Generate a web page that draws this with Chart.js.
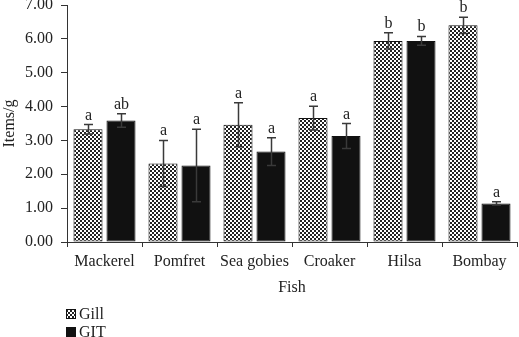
<!DOCTYPE html>
<html>
<head>
<meta charset="utf-8">
<script src="https://cdn.jsdelivr.net/npm/chart.js@4.4.1/dist/chart.umd.min.js"></script>
<style>
html,body{margin:0;padding:0;background:#fff;}
#wrap{width:519px;height:337px;position:relative;}
</style>
</head>
<body>
<div id="wrap"><canvas id="c" width="519" height="337"></canvas></div>
<script>
const categories = ["Mackerel", "Pomfret", "Sea gobies", "Croaker", "Hilsa", "Bombay"];
const gillValues = [3.33, 2.32, 3.46, 3.66, 5.94, 6.40];
const gillErrors = [0.14, 0.68, 0.65, 0.35, 0.24, 0.24];
const gillLetters = ["a", "a", "a", "a", "b", "b"];
const gitValues = [3.59, 2.26, 2.67, 3.13, 5.94, 1.14];
const gitErrors = [0.20, 1.07, 0.41, 0.37, 0.13, 0.05];
const gitLetters = ["ab", "a", "a", "a", "b", "a"];
const yTicks = [0, 1, 2, 3, 4, 5, 6, 7];

const FONT = "'Liberation Serif', 'Times New Roman', serif";

function makePattern() {
  const p = document.createElement('canvas');
  p.width = 4; p.height = 4;
  const g = p.getContext('2d');
  g.fillStyle = '#fff'; g.fillRect(0,0,4,4);
  g.fillStyle = '#222';
  g.fillRect(0,0,2,2); g.fillRect(2,2,2,2);
  return document.getElementById('c').getContext('2d').createPattern(p, 'repeat');
}
const pattern = makePattern();

const errorPlugin = {
  id: 'errs',
  afterDatasetsDraw(chart) {
    const ctx = chart.ctx;
    const y = chart.scales.y;
    const sets = [[gillValues, gillErrors, gillLetters], [gitValues, gitErrors, gitLetters]];
    sets.forEach((s, di) => {
      const meta = chart.getDatasetMeta(di);
      meta.data.forEach((bar, i) => {
        const x = Math.round(bar.x) + 0.5;
        const top = y.getPixelForValue(s[0][i] + s[1][i]);
        const bot = y.getPixelForValue(s[0][i] - s[1][i]);
        ctx.save();
        ctx.strokeStyle = '#3a3a3a';
        ctx.lineWidth = 1.5;
        ctx.beginPath();
        ctx.moveTo(x, top); ctx.lineTo(x, bot);
        ctx.moveTo(x - 4.5, top); ctx.lineTo(x + 4.5, top);
        ctx.moveTo(x - 4.5, bot); ctx.lineTo(x + 4.5, bot);
        ctx.stroke();
        ctx.fillStyle = '#222';
        ctx.font = '16px ' + FONT;
        ctx.textAlign = 'center';
        ctx.textBaseline = 'alphabetic';
        ctx.fillText(s[2][i], x, top - 5);
        ctx.restore();
      });
    });
  },
  afterDraw(chart) {
    const ctx = chart.ctx;
    ctx.save();
    ctx.font = '16px ' + FONT;
    ctx.textBaseline = 'middle';
    const items = [["Gill", pattern], ["GIT", '#111']];
    items.forEach((it, k) => {
      const yy = 314 + k * 18;
      ctx.fillStyle = it[1];
      ctx.fillRect(66, yy - 5, 10, 10);
      ctx.strokeStyle = '#111'; ctx.lineWidth = 1;
      ctx.strokeRect(66.5, yy - 4.5, 9, 9);
      ctx.fillStyle = '#222';
      ctx.fillText(it[0], 79, yy + 1);
    });
    ctx.restore();
  }
};

new Chart(document.getElementById('c'), {
  type: 'bar',
  data: {
    labels: categories,
    datasets: [
      { label: 'Gill', data: gillValues, backgroundColor: pattern, borderColor: '#111', borderWidth: 1, borderSkipped: false },
      { label: 'GIT', data: gitValues, backgroundColor: '#111', borderColor: '#111', borderWidth: 1, borderSkipped: false }
    ]
  },
  options: {
    responsive: false,
    animation: false,
    devicePixelRatio: 1,
    categoryPercentage: 0.88,
    barPercentage: 0.88,
    layout: { padding: { top: 5, right: 2, bottom: 37, left: 0 } },
    plugins: { legend: { display: false }, tooltip: { enabled: false } },
    scales: {
      x: {
        grid: { display: true, drawOnChartArea: false, offset: true, tickLength: 5, color: '#333' },
        border: { display: true, color: '#333', width: 1 },
        ticks: { color: '#222', font: { family: FONT, size: 16 }, padding: 5, maxRotation: 0, autoSkip: false },
        title: { display: true, text: 'Fish', color: '#222', font: { family: FONT, size: 16 }, padding: { top: 2, bottom: 3 } },
        afterFit(s) { s.height = 58; s.paddingLeft = 0; s.paddingRight = 0; }
      },
      y: {
        min: 0, max: 7,
        afterBuildTicks(s) { s.ticks = yTicks.map(v => ({ value: v })); },
        grid: { display: true, drawOnChartArea: false, tickLength: 6, color: '#333' },
        border: { display: true, color: '#333', width: 1 },
        ticks: { color: '#222', font: { family: FONT, size: 16 }, padding: 8, callback: v => Number(v).toFixed(2) },
        title: { display: true, text: 'Items/g', color: '#222', font: { family: FONT, size: 16 }, padding: { top: 0, bottom: 2 } },
        afterFit(s) { s.width = 67; s.paddingTop = 0; s.paddingBottom = 0; }
      }
    }
  },
  plugins: [errorPlugin]
});
</script>
</body>
</html>
